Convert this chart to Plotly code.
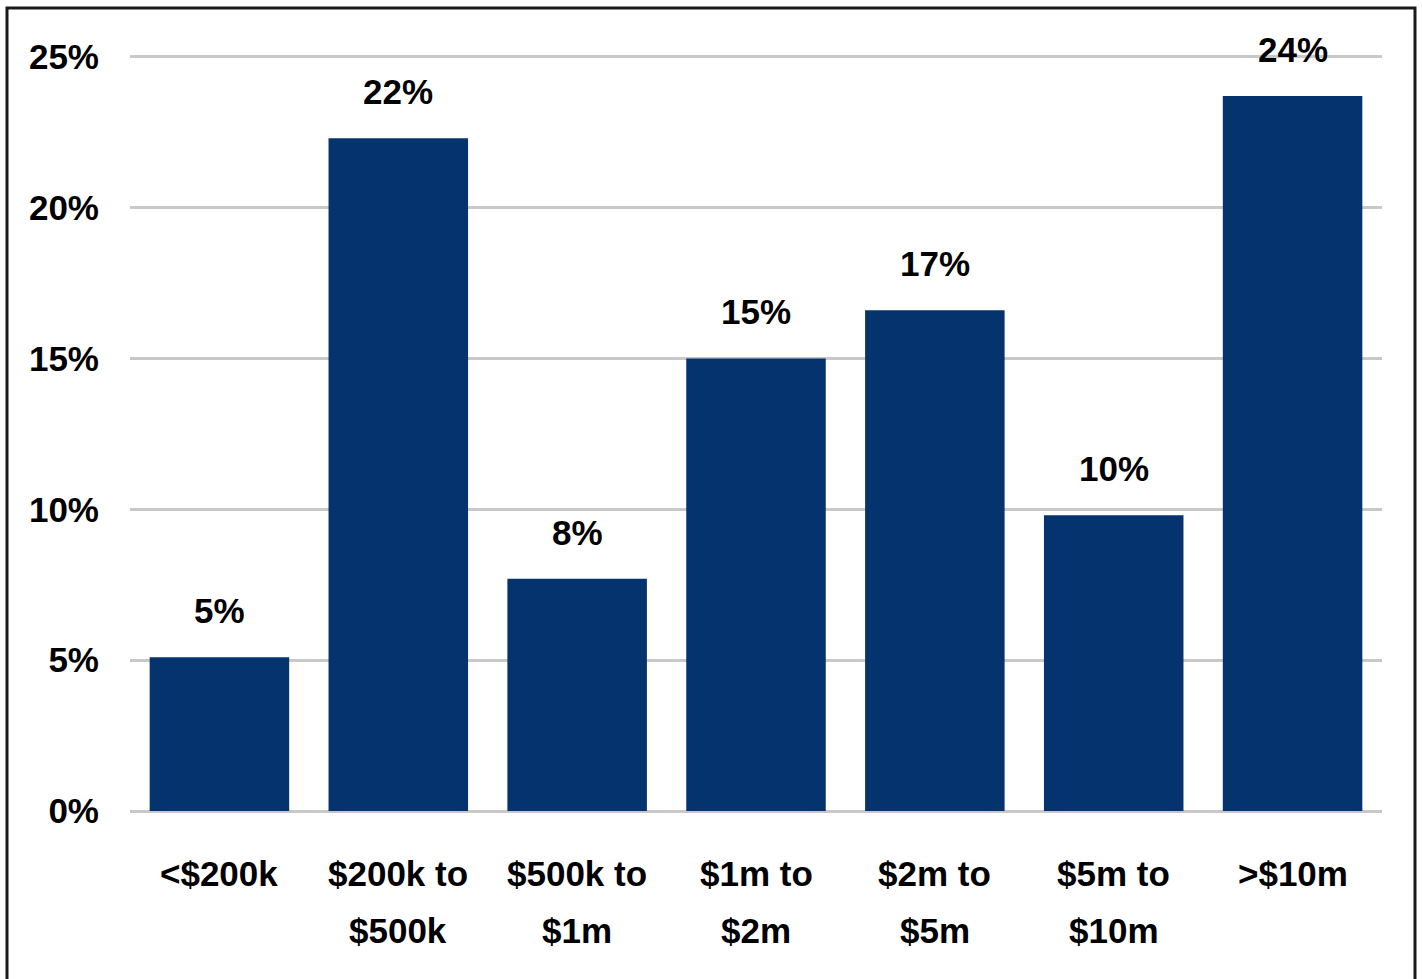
import plotly.graph_objects as go

categories = ["<$200k", "$200k to $500k", "$500k to $1m", "$1m to $2m",
              "$2m to $5m", "$5m to $10m", ">$10m"]
label_line1 = ["<$200k", "$200k to", "$500k to", "$1m to", "$2m to", "$5m to", ">$10m"]
label_line2 = ["", "$500k", "$1m", "$2m", "$5m", "$10m", ""]
values = [5.1, 22.3, 7.7, 15.0, 16.6, 9.8, 23.7]
value_labels = ["5%", "22%", "8%", "15%", "17%", "10%", "24%"]
y_ticks = [0, 5, 10, 15, 20, 25]
y_tick_labels = ["0%", "5%", "10%", "15%", "20%", "25%"]

FONT = "Liberation Sans, Arial, sans-serif"
FS = 35

fig = go.Figure(go.Bar(
    x=categories,
    y=values,
    marker=dict(color="#05336D", line=dict(width=0)),
    hoverinfo="x+y",
))

L, R, T, B = 130, 40, 55, 168
W, H = 1422, 979
pw, ph = W - L - R, H - T - B

annotations = []
for c, v, t in zip(categories, values, value_labels):
    annotations.append(dict(x=c, y=v, xref="x", yref="y", text="<b>%s</b>" % t,
                            showarrow=False, yanchor="bottom", yshift=25,
                            font=dict(family=FONT, size=FS, color="#000000")))
for c, l1, l2 in zip(categories, label_line1, label_line2):
    annotations.append(dict(x=c, y=0, xref="x", yref="paper", text="<b>%s</b>" % l1,
                            showarrow=False, yanchor="middle", yshift=-62,
                            font=dict(family=FONT, size=FS, color="#000000")))
    if l2:
        annotations.append(dict(x=c, y=0, xref="x", yref="paper", text="<b>%s</b>" % l2,
                                showarrow=False, yanchor="middle", yshift=-119,
                                font=dict(family=FONT, size=FS, color="#000000")))

fig.update_layout(
    width=W, height=H,
    margin=dict(l=L, r=R, t=T, b=B),
    paper_bgcolor="white", plot_bgcolor="white",
    bargap=0.22,
    showlegend=False,
    font=dict(family=FONT, size=FS, color="#000000"),
    xaxis=dict(showgrid=False, showline=False, ticks="", showticklabels=False),
    yaxis=dict(range=[0, 25.06], tickvals=y_ticks, ticktext=y_tick_labels,
               showgrid=True, gridcolor="#C8C8C8", gridwidth=3,
               zeroline=True, zerolinecolor="#C8C8C8", zerolinewidth=3,
               showline=False, ticks="", ticklabelstandoff=30,
               tickfont=dict(family=FONT, size=FS, color="#000000", weight="bold")),
    annotations=annotations,
    shapes=[dict(type="rect", xref="paper", yref="paper",
                 x0=(7 - L) / pw, x1=(1415 - L) / pw,
                 y0=-(B + 20) / ph, y1=1 + (T - 8) / ph,
                 line=dict(color="#1A1A1A", width=3), fillcolor="rgba(0,0,0,0)",
                 layer="below")],
)

fig.write_html("out.html")
